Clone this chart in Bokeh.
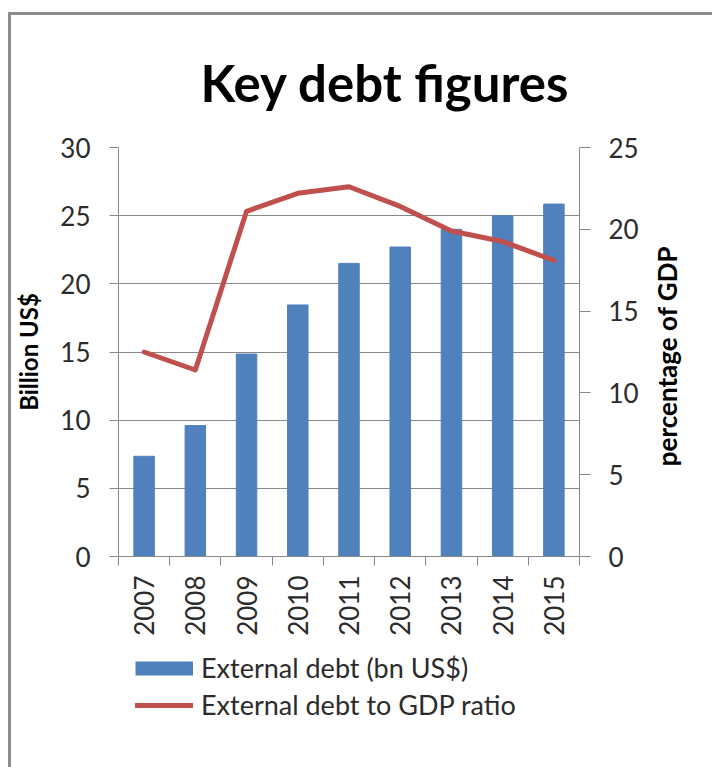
import math
from bokeh.plotting import figure
from bokeh.layouts import column, row
from bokeh.core.properties import value
from bokeh.models import (Range1d, LinearAxis, FixedTicker, Legend, LegendItem,
                          CustomJSTickFormatter)
from bokeh.embed import file_html
from bokeh.resources import INLINE

# ---- data ----
years = ["2007", "2008", "2009", "2010", "2011", "2012", "2013", "2014", "2015"]
external_debt = [7.35, 9.6, 14.85, 18.45, 21.5, 22.7, 24.0, 25.0, 25.85]
debt_to_gdp = [12.5, 11.4, 21.1, 22.2, 22.6, 21.4, 19.9, 19.25, 18.1]
left_ticks = [0, 5, 10, 15, 20, 25, 30]
right_ticks = [0, 5, 10, 15, 20, 25]
bar_label = "External debt (bn US$)"
line_label = "External debt to GDP ratio"
right_title = "percentage of GDP"

BAR = "#4F81BD"
LINE = "#C0504D"
GRID = "#888888"
TXT = "#2b2b2b"
FONT = "Lato"

xs = list(range(1, len(years) + 1))
bounds = [x - 0.5 for x in xs] + [xs[-1] + 0.5]

p = figure(width=630, height=625, output_backend="svg", toolbar_location=None,
           x_range=Range1d(0.5, len(years) + 0.5), y_range=Range1d(0, 30),
           min_border_left=104, min_border_right=60, min_border_top=132,
           min_border_bottom=84)
p.extra_y_ranges = {"pct": Range1d(0, 25)}
p.outline_line_color = None
p.background_fill_color = "white"
p.border_fill_color = "white"

# title
p.title.text = "Key debt figures"
p.title.text_font = FONT
p.title.text_font_style = "bold"
p.title.text_font_size = "51px"
p.title.text_color = "black"
p.title.align = "left"
p.title.offset = 82
p.title.standoff = 69

# bars and line
p.vbar(x=xs, top=external_debt, width=0.4, fill_color=BAR, line_color=BAR)
p.line(xs, debt_to_gdp, y_range_name="pct", line_width=5, line_color=LINE,
       line_join="round", line_cap="round")

# left axis
ya = p.yaxis[0]
ya.ticker = FixedTicker(ticks=left_ticks)
ya.axis_label = "Billion US$"
ya.axis_label_text_font = FONT
ya.axis_label_text_font_style = "bold"
ya.axis_label_text_font_size = "24px"
ya.axis_label_text_color = "black"
ya.axis_label_standoff = 14
ya.major_label_text_font = FONT
ya.major_label_text_font_size = "26px"
ya.major_label_text_color = TXT
ya.major_label_standoff = 19
ya.major_tick_out = 9
ya.major_tick_in = 0
ya.minor_tick_line_color = None
ya.axis_line_color = GRID
ya.major_tick_line_color = GRID

p.ygrid.ticker = FixedTicker(ticks=left_ticks)
p.ygrid.grid_line_color = GRID
p.xgrid.visible = False

# right axis (its title is drawn in the strip to the right)
ra = LinearAxis(y_range_name="pct", ticker=FixedTicker(ticks=right_ticks))
ra.major_label_text_font = FONT
ra.major_label_text_font_size = "26px"
ra.major_label_text_color = TXT
ra.major_label_standoff = 18
ra.major_tick_out = 11
ra.major_tick_in = 0
ra.minor_tick_line_color = None
ra.axis_line_color = GRID
ra.major_tick_line_color = GRID
p.add_layout(ra, "right")

# bottom axis: boundary ticks only
xa = p.xaxis[0]
xa.ticker = FixedTicker(ticks=bounds)
xa.formatter = CustomJSTickFormatter(code="return ''")
xa.major_label_text_font_size = "0px"
xa.major_label_standoff = 0
xa.major_tick_out = 9
xa.major_tick_in = 0
xa.minor_tick_line_color = None
xa.axis_line_color = GRID
xa.major_tick_line_color = GRID

# bottom axis: year labels
xl = LinearAxis(ticker=FixedTicker(ticks=xs),
                major_label_overrides={x: y for x, y in zip(xs, years)})
xl.axis_line_color = None
xl.major_tick_line_color = None
xl.minor_tick_line_color = None
xl.major_tick_out = 0
xl.major_label_orientation = math.pi / 2
xl.major_label_standoff = 10
xl.major_label_text_font = FONT
xl.major_label_text_font_size = "26px"
xl.major_label_text_color = TXT
p.add_layout(xl, "below")

# ---- right strip carrying the secondary axis title (reads bottom to top) ----
side = figure(width=71, height=625, output_backend="svg", toolbar_location=None,
              x_range=Range1d(0, 71), y_range=Range1d(0, 1),
              x_axis_location=None, y_axis_location=None,
              min_border_left=0, min_border_right=0, min_border_top=132,
              min_border_bottom=84)
side.outline_line_color = None
side.grid.visible = False
side.background_fill_color = "white"
side.border_fill_color = "white"
side.text(x=[25], y=[0.49], text=[right_title], angle=math.pi / 2,
          text_align="center", text_baseline="middle",
          text_font=value(FONT), text_font_style="bold", text_font_size="26px",
          text_color="black")

# ---- legend strip (separate figure below the chart) ----
lg = figure(width=701, height=127, output_backend="svg", toolbar_location=None,
            x_range=Range1d(-20, -10), y_range=Range1d(-20, -10),
            x_axis_location=None, y_axis_location=None,
            min_border_left=104, min_border_right=131, min_border_top=0,
            min_border_bottom=0)
lg.outline_line_color = None
lg.grid.visible = False
lg.background_fill_color = "white"
lg.border_fill_color = "white"
# same series, outside this strip's visible ranges: only their legend swatches show
bar_sw = lg.line(xs, external_debt, line_width=14, line_color=BAR)
line_sw = lg.line(xs, debt_to_gdp, line_width=5, line_color=LINE, line_cap="round")

legend = Legend(items=[LegendItem(label=bar_label, renderers=[bar_sw]),
                       LegendItem(label=line_label, renderers=[line_sw])],
                location=(20, 46), orientation="vertical")
legend.padding = 0
legend.margin = 0
legend.spacing = 4
legend.glyph_width = 58
legend.glyph_height = 30
legend.label_height = 30
legend.label_standoff = 8
legend.label_text_font = FONT
legend.label_text_font_size = "27px"
legend.label_text_color = TXT
legend.border_line_color = None
legend.background_fill_alpha = 0
lg.add_layout(legend, "center")

layout = column(row(p, side, spacing=0), lg, spacing=0,
                styles={"margin-left": "8px", "margin-top": "12px",
                        "border-left": "3px solid #8c8c8c",
                        "border-top": "3px solid #8c8c8c",
                        "background-color": "white"})

open("out.html", "w").write(file_html(layout, INLINE))
